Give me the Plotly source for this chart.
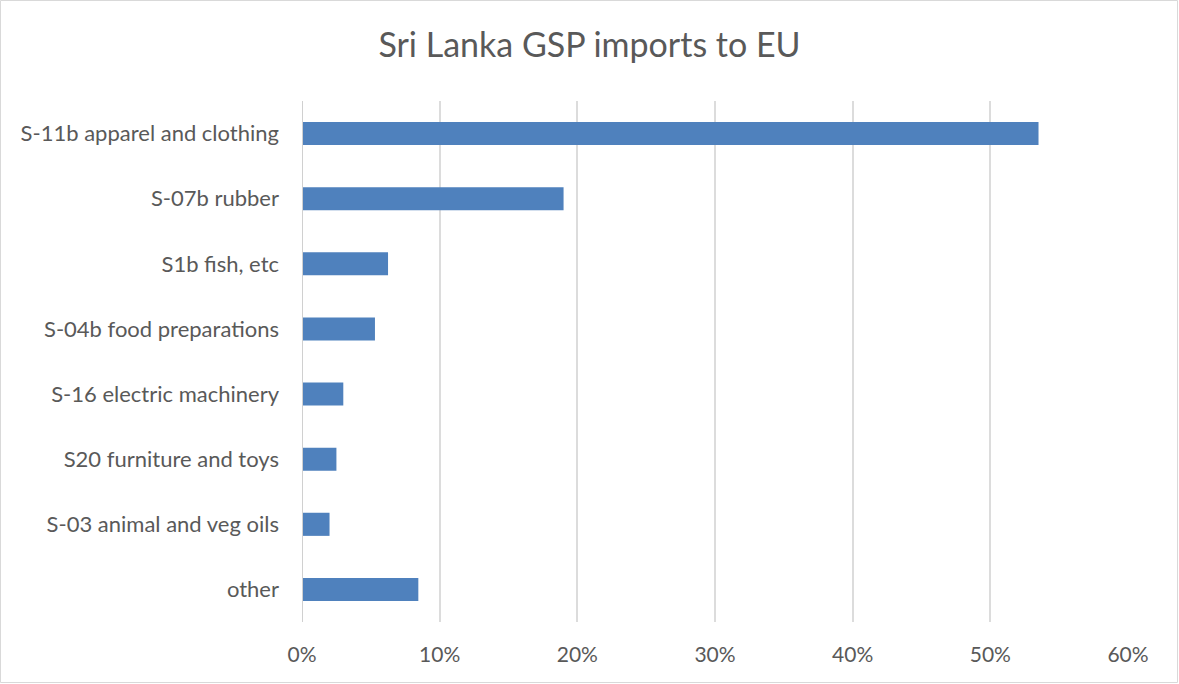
import plotly.graph_objects as go

categories = [
    "S-11b apparel and clothing",
    "S-07b rubber",
    "S1b fish, etc",
    "S-04b food preparations",
    "S-16 electric machinery",
    "S20 furniture and toys",
    "S-03 animal and veg oils",
    "other",
]
shares = [0.535, 0.190, 0.0625, 0.053, 0.030, 0.025, 0.020, 0.0845]
tick_vals = [0, 0.1, 0.2, 0.3, 0.4, 0.5, 0.6]
tick_text = ["0%", "10%", "20%", "30%", "40%", "50%", "60%"]

W, H = 1179, 684
ml, mr, mt, mb = 302, 51, 101, 62
pw, ph = W - ml - mr, H - mt - mb

fig = go.Figure(go.Bar(
    x=shares, y=categories, orientation="h",
    marker=dict(color="#4f81bd", line=dict(width=0)),
))

fig.update_layout(
    width=W, height=H,
    margin=dict(l=ml, r=mr, t=mt, b=mb),
    paper_bgcolor="white", plot_bgcolor="white",
    bargap=0.645,
    showlegend=False,
    font=dict(family="Lato, Open Sans, sans-serif", color="#595959", size=21),
    title=dict(text="Sri Lanka GSP imports to EU", x=0.5, xanchor="center",
               y=1 - 45 / H, yanchor="middle",
               font=dict(size=34, color="#595959")),
    xaxis=dict(range=[0, 0.6], tickvals=tick_vals, ticktext=tick_text,
               showgrid=True, gridcolor="#dcdcdc", gridwidth=1.5,
               zeroline=False, showline=False, ticks="",
               ticklabelstandoff=18, tickfont=dict(size=21)),
    yaxis=dict(autorange="reversed", showgrid=False, zeroline=False,
               showline=False, ticks="", ticklabelstandoff=22,
               tickfont=dict(size=22)),
    shapes=[
        dict(type="line", xref="x", yref="paper", x0=0, x1=0, y0=0, y1=1,
             line=dict(color="#d0d0d0", width=2)),
        dict(type="rect", xref="paper", yref="paper",
             x0=(-ml + 0.5) / pw, x1=(pw + mr - 1.5) / pw,
             y0=(-mb + 1.5) / ph, y1=(ph + mt - 0.5) / ph,
             line=dict(color="#d9d9d9", width=1), fillcolor="rgba(0,0,0,0)",
             layer="below"),
    ],
)

fig.write_html("out.html", config={"displayModeBar": False},
               post_script="document.body.style.margin='0px';document.body.style.overflow='hidden';")
